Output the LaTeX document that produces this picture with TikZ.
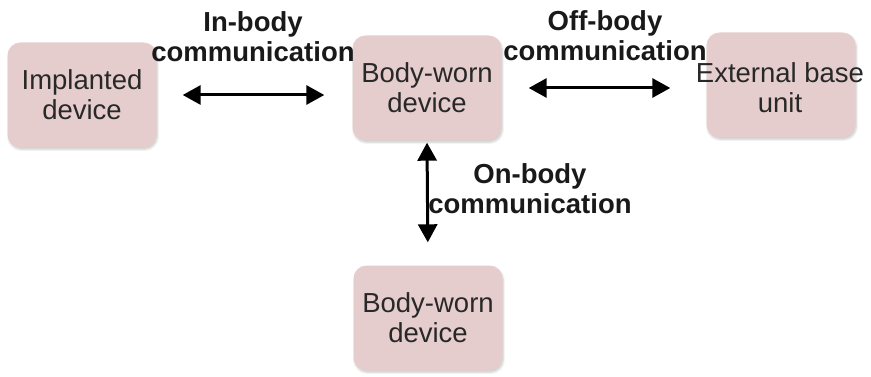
\documentclass[tikz,border=0pt]{standalone}
\usepackage{fontspec}
\setmainfont{Liberation Sans}
\usetikzlibrary{arrows.meta,shadows.blur}
\definecolor{boxfill}{RGB}{230,205,205}
\definecolor{txt}{RGB}{40,40,40}
\begin{document}
\begin{tikzpicture}[x=1pt,y=-1pt,
  box/.style={rounded corners=13pt, fill=boxfill, draw=none, align=center,
    minimum width=149pt, minimum height=105pt, inner sep=0pt, text=txt,
    font=\fontsize{27.5}{30}\selectfont,
    blur shadow={shadow xshift=1pt, shadow yshift=-2pt, shadow blur steps=6, shadow opacity=20}},
  lbl/.style={align=center, font=\fontsize{27.5}{30}\selectfont\bfseries, text=black!90, inner sep=0pt},
  arr/.style={line width=3pt, {Triangle[length=18pt,width=19pt]}-{Triangle[length=18pt,width=19pt]}}]
\useasboundingbox (0,0) rectangle (871,377);
\node[box] (imp) at (82,95) {Implanted\\device};
\node[box] (bw1) at (427,88) {Body-worn\\device};
\node[box, inner xsep=-11pt] (ext) at (781,85) {};
\node[align=center, inner sep=0pt, text=txt, font=\fontsize{27.5}{30}\selectfont] (extt) at (780,88) {External base\\unit};
\node[box] (bw2) at (428,318) {Body-worn\\device};
\draw[arr, shorten <=26pt, shorten >=28pt] (imp.east) -- (imp.east -| bw1.west);
\draw[arr, shorten <=27pt, shorten >=36pt] (bw1.east) -- (bw1.east -| ext.west);
\draw[arr, shorten <=2pt, shorten >=23pt] (bw1.south) -- (bw2.north);
\node[lbl] (l1) at (253,37) {In-body\\communication};
\node[lbl] (l2) at (605,36) {Off-body\\communication};
\node[lbl] (l3) at (530,189) {On-body\\communication};
\end{tikzpicture}
\end{document}
